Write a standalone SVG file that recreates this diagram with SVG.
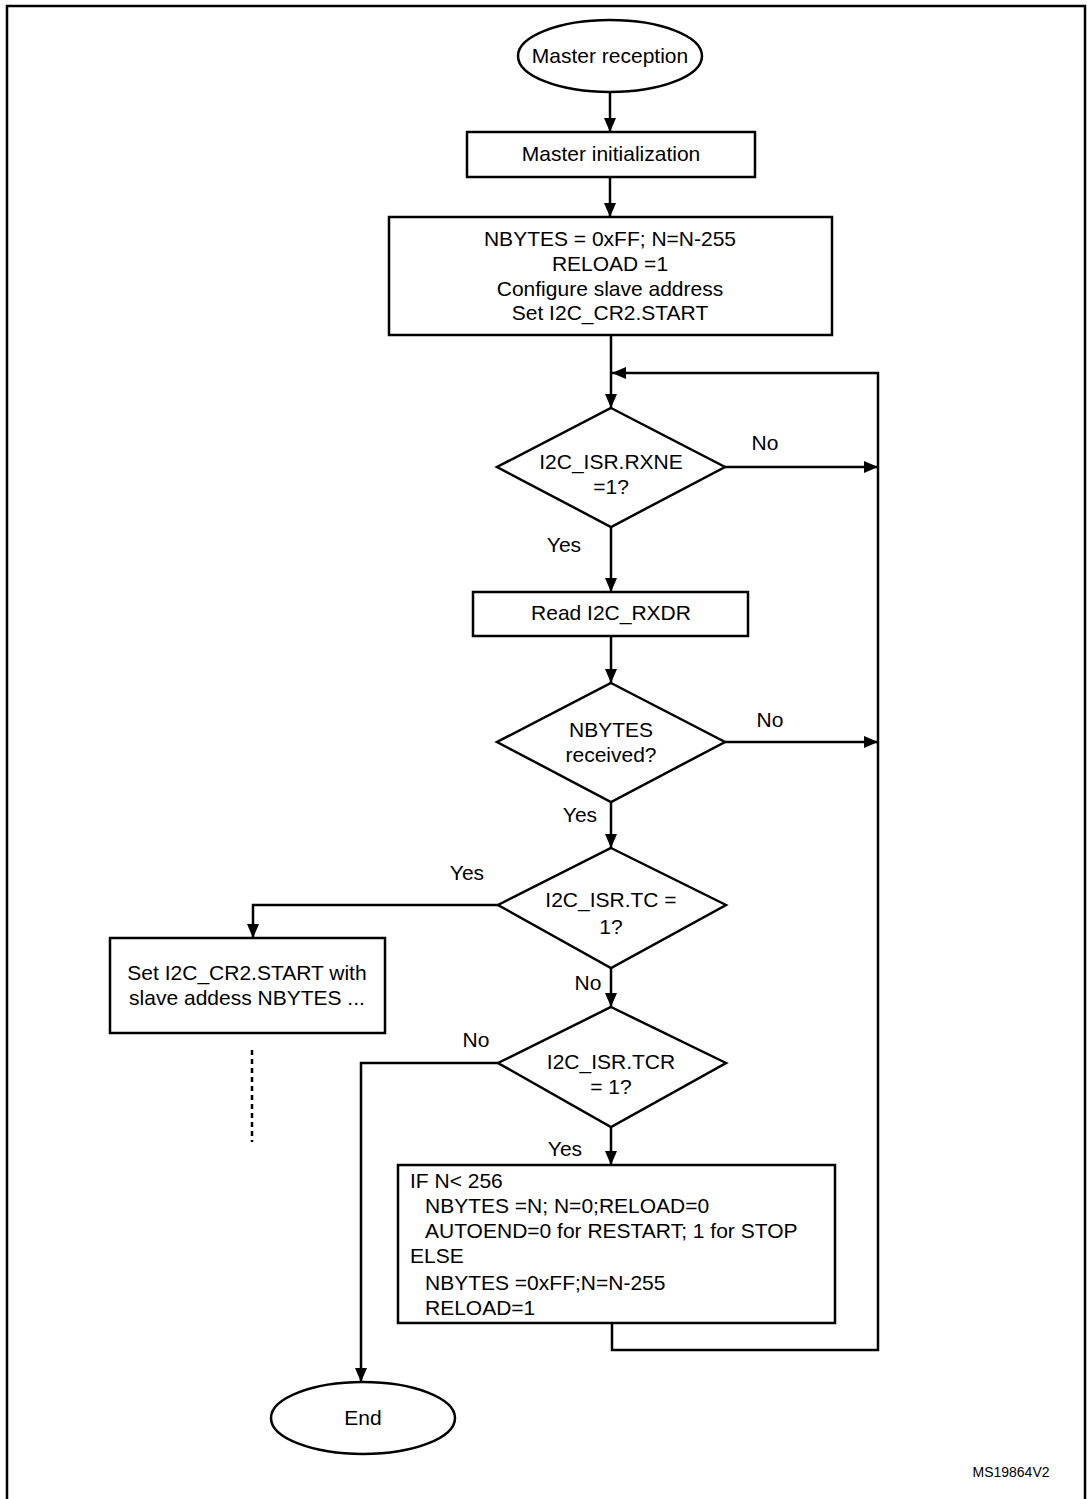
<svg xmlns="http://www.w3.org/2000/svg" width="1087" height="1499" viewBox="0 0 1087 1499">
<style>
.n{fill:#fff;stroke:#000;stroke-width:2.5}
.c{fill:none;stroke:#000;stroke-width:2.5}
.t{font-family:"Liberation Sans",Arial,sans-serif;font-size:21px;fill:#000}
.m{text-anchor:middle}
</style>
<defs>
<marker id="ah" viewBox="0 0 14 12" refX="14" refY="6" markerWidth="14" markerHeight="12" markerUnits="userSpaceOnUse" orient="auto">
<path d="M0,0 L14,6 L0,12 z" fill="#000"/>
</marker>
</defs>
<rect width="1087" height="1499" fill="#fff"/>
<path d="M7,1499 V6 H1085 V1499" fill="none" stroke="#000" stroke-width="2.5"/>

<g id="connectors">
<path class="c" d="M610,92 V132" marker-end="url(#ah)"/>
<path class="c" d="M610,177 V217" marker-end="url(#ah)"/>
<path class="c" d="M611,335 V408" marker-end="url(#ah)"/>
<path class="c" d="M612,1323 V1350 H878 V373 H612" marker-end="url(#ah)"/>
<path class="c" d="M725,467 H878" marker-end="url(#ah)"/>
<path class="c" d="M611,527 V592" marker-end="url(#ah)"/>
<path class="c" d="M611,636 V683" marker-end="url(#ah)"/>
<path class="c" d="M725,742 H878" marker-end="url(#ah)"/>
<path class="c" d="M611,802 V848" marker-end="url(#ah)"/>
<path class="c" d="M498,905 H253 V938" marker-end="url(#ah)"/>
<path class="c" d="M611,968 V1007" marker-end="url(#ah)"/>
<path class="c" d="M498,1063 H361 V1382" marker-end="url(#ah)"/>
<path class="c" d="M611,1127 V1165" marker-end="url(#ah)"/>
<path d="M252,1050 V1142" fill="none" stroke="#000" stroke-width="2.5" stroke-dasharray="5,4"/>
<text class="t m" x="765" y="450">No</text>
<text class="t m" x="564" y="552">Yes</text>
<text class="t m" x="770" y="727">No</text>
<text class="t m" x="580" y="822">Yes</text>
<text class="t m" x="467" y="880">Yes</text>
<text class="t m" x="588" y="990">No</text>
<text class="t m" x="476" y="1047">No</text>
<text class="t m" x="565" y="1156">Yes</text>
</g>

<g id="start">
<ellipse class="n" cx="610" cy="56" rx="92" ry="36"/>
<text class="t m" x="610" y="63">Master reception</text>
</g>
<g id="init">
<rect class="n" x="467" y="132" width="288" height="45"/>
<text class="t m" x="611" y="161">Master initialization</text>
</g>
<g id="setup">
<rect class="n" x="389" y="217" width="443" height="118"/>
<text class="t m" x="610" y="246">NBYTES = 0xFF; N=N-255</text>
<text class="t m" x="610" y="271">RELOAD =1</text>
<text class="t m" x="610" y="296">Configure slave address</text>
<text class="t m" x="610" y="320">Set I2C_CR2.START</text>
</g>
<g id="rxne">
<polygon class="n" points="611,408 725,467 611,527 497,467"/>
<text class="t m" x="611" y="469">I2C_ISR.RXNE</text>
<text class="t m" x="611" y="494">=1?</text>
</g>
<g id="read">
<rect class="n" x="473" y="592" width="275" height="44"/>
<text class="t m" x="611" y="620">Read I2C_RXDR</text>
</g>
<g id="nbytes">
<polygon class="n" points="611,683 725,742 611,802 497,742"/>
<text class="t m" x="611" y="737">NBYTES</text>
<text class="t m" x="611" y="762">received?</text>
</g>
<g id="tc">
<polygon class="n" points="611,848 726,905 611,968 498,905"/>
<text class="t m" x="611" y="907">I2C_ISR.TC =</text>
<text class="t m" x="611" y="934">1?</text>
</g>
<g id="restart">
<rect class="n" x="110" y="938" width="275" height="95"/>
<text class="t m" x="247" y="980">Set I2C_CR2.START with</text>
<text class="t m" x="247" y="1005">slave addess NBYTES ...</text>
</g>
<g id="tcr">
<polygon class="n" points="611,1007 726,1063 611,1127 498,1063"/>
<text class="t m" x="611" y="1069">I2C_ISR.TCR</text>
<text class="t m" x="611" y="1094">= 1?</text>
</g>
<g id="reload">
<rect class="n" x="398" y="1165" width="437" height="158"/>
<text class="t" x="410" y="1188">IF N&lt; 256</text>
<text class="t" x="425" y="1213">NBYTES =N; N=0;RELOAD=0</text>
<text class="t" x="425" y="1238">AUTOEND=0 for RESTART; 1 for STOP</text>
<text class="t" x="410" y="1263">ELSE</text>
<text class="t" x="425" y="1290">NBYTES =0xFF;N=N-255</text>
<text class="t" x="425" y="1315">RELOAD=1</text>
</g>
<g id="end">
<ellipse class="n" cx="363" cy="1418" rx="92" ry="36"/>
<text class="t m" x="363" y="1425">End</text>
</g>
<text x="1011" y="1477" font-family="'Liberation Sans',Arial,sans-serif" font-size="14" text-anchor="middle" fill="#000">MS19864V2</text>
</svg>
